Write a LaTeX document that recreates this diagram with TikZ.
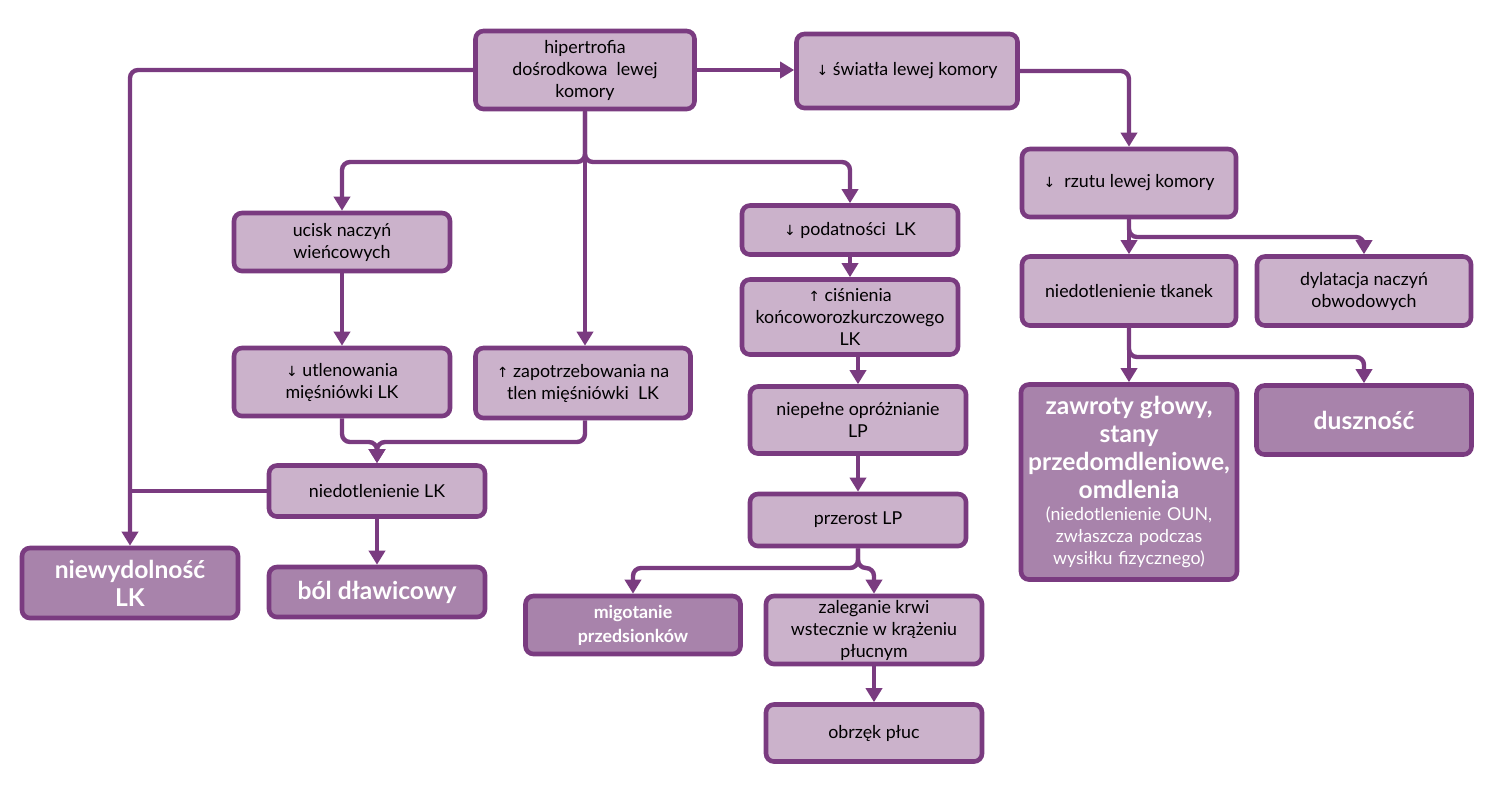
\documentclass[tikz,border=0pt]{standalone}
\usepackage{fontspec}
\setmainfont{Lato}
\newfontfamily\symf{DejaVu Sans}
\usetikzlibrary{arrows.meta}
\definecolor{pborder}{RGB}{122,59,128}
\definecolor{plight}{RGB}{203,178,203}
\definecolor{pdark}{RGB}{168,131,171}
\newcommand{\dnar}{{\symf\fontsize{7}{7}\selectfont ↓}}
\newcommand{\uparr}{{\symf\fontsize{7}{7}\selectfont ↑}}
\newcommand{\bigb}{\fontsize{12.3}{14}\selectfont\bfseries}
\newcommand{\normt}{\fontsize{8.9}{11}\selectfont}
\begin{document}
\begin{tikzpicture}[x=0.5pt,y=-0.5pt,
  box/.style={draw=pborder, fill=plight, line width=2.3pt, rounded corners=4pt,
    align=center, text=black, inner sep=1pt, font=\normt},
  hbox/.style={box, fill=pdark, text=white, font=\bigb},
  conn/.style={draw=pborder, line width=2.2pt, rounded corners=4pt},
  arr/.style={conn, -{Triangle[length=7pt,width=8pt]}}]
\useasboundingbox (0,0) rectangle (1500,794);

% boxes
\node[box, minimum width=109.5pt, minimum height=39pt] (hyp) at (585,70)
  {hipertrofia\\ dośrodkowa\ \ lewej\\ komory};
\node[box, minimum width=110.5pt, minimum height=37pt] (sw) at (907,71)
  {\dnar\ światła lewej komory};
\node[box, minimum width=107pt, minimum height=34pt] (rz) at (1129,183)
  {\dnar\ \ rzutu lewej komory};
\node[box, minimum width=108pt, minimum height=29pt] (uc) at (342,242)
  {ucisk naczyń\\ wieńcowych};
\node[box, minimum width=108pt, minimum height=24.5pt] (pd) at (850,230)
  {\dnar\ podatności\ \ LK};
\node[box, minimum width=108pt, minimum height=37.5pt] (cs) at (850,317)
  {\uparr\ ciśnienia\\ końcoworozkurczowego\\ LK};
\node[box, minimum width=107pt, minimum height=34.5pt] (nt) at (1129,291)
  {niedotlenienie tkanek};
\node[box, minimum width=107pt, minimum height=34.5pt] (dy) at (1364,291)
  {dylatacja naczyń\\ obwodowych};
\node[box, minimum width=108pt, minimum height=34pt] (ut) at (342,382)
  {\dnar\ utlenowania\\ mięśniówki LK};
\node[box, minimum width=107.5pt, minimum height=35pt] (zp) at (583,383)
  {\uparr\ zapotrzebowania na\\ tlen mięśniówki\ \ LK};
\node[box, minimum width=108pt, minimum height=33.5pt] (np) at (858,420)
  {niepełne opróżnianie\\ LP};
\node[box, fill=pdark, text=white, minimum width=107pt, minimum height=97.5pt,
  text width=106pt] (zw) at (1129,482)
  {{\bigb zawroty głowy,\\ stany\\ przedomdleniowe,\\ omdlenia\par}
   {\normt (niedotlenienie OUN,\\ zwłaszcza podczas\\ wysiłku fizycznego)\par}};
\node[hbox, minimum width=107.5pt, minimum height=34.5pt] (du) at (1364,420)
  {dusznoś\'c};
\node[box, minimum width=108pt, minimum height=25.5pt] (nlk) at (377,491)
  {niedotlenienie LK};
\node[box, minimum width=108pt, minimum height=26pt] (pr) at (858,520)
  {przerost LP};
\node[hbox, minimum width=108pt, minimum height=35pt] (nw) at (130,583)
  {niewydolność\\ LK};
\node[hbox, minimum width=108pt, minimum height=25pt] (bol) at (377,592)
  {ból dławicowy};
\node[hbox, minimum width=107.5pt, minimum height=29pt,
  font=\fontsize{8.9}{12}\selectfont\bfseries] (mg) at (633,625)
  {migotanie\\ przedsionków};
\node[box, minimum width=108pt, minimum height=34pt] (zl) at (874,630)
  {zaleganie krwi\\ wstecznie w krążeniu\\ płucnym};
\node[box, minimum width=108pt, minimum height=28.5pt] (ob) at (874,733)
  {obrzęk płuc};

% junction points
\coordinate (s1) at (585,162);
\coordinate (j1) at (377,442);
\coordinate (j2) at (858,568);
\coordinate (j3) at (1129,237);
\coordinate (j4) at (1129,357);

% connectors
\draw[arr] (hyp.west) -| (nw.north);
\draw[conn] (nlk.west) -- (nlk.west -| nw.north);
\draw[arr] (hyp.east) -- (hyp.east -| sw.west);
\draw[arr] (sw.east) -| (rz.north);
\draw[arr] (hyp.south) -- (s1) -| (uc.north);
\draw[arr] (hyp.south) -- (hyp.south |- zp.north);
\draw[arr] (hyp.south) -- (s1) -| (pd.north);
\draw[arr] (uc) -- (ut);
\draw[arr] (ut.south) |- (j1) -- (nlk.north);
\draw[arr] (zp.south -| hyp.south) |- (j1) -- (nlk.north);
\draw[arr] (nlk) -- (bol);
\draw[arr] (pd.south) -- (pd.south |- cs.north);
\draw[arr] (cs.south -| np.north) -- (np.north);
\draw[arr] (np) -- (pr);
\draw[arr] (pr.south) -- (j2) -| (mg.north);
\draw[arr] (pr.south) -- (j2) -| (zl.north);
\draw[arr] (zl) -- (ob);
\draw[arr] (rz.south) -- (nt.north);
\draw[arr] (rz.south) -- (j3) -| (dy.north);
\draw[arr] (nt.south) -- (zw.north);
\draw[arr] (nt.south) -- (j4) -| (du.north);
\end{tikzpicture}
\end{document}
